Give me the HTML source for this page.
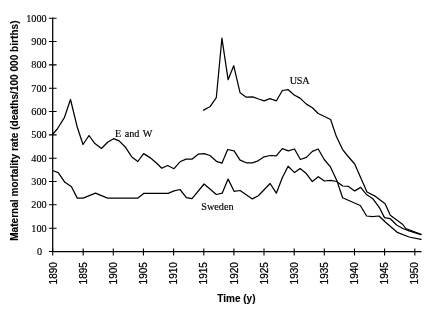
<!DOCTYPE html>
<html><head><meta charset="utf-8"><title>Maternal mortality rate</title>
<style>
html,body{margin:0;padding:0;background:#fff;}
svg{display:block;}
text{fill:#000;stroke:#000;stroke-width:0.25px;}
.s{font-family:"Liberation Serif",serif;font-size:10.2px;stroke-width:0.15px;}
.h{font-family:"Liberation Sans",sans-serif;font-size:10px;stroke-width:0.25px;}
.b{font-family:"Liberation Sans",sans-serif;font-size:10px;font-weight:bold;stroke-width:0.1px;}
</style></head><body>
<svg width="440" height="310" viewBox="0 0 440 310">
<rect width="440" height="310" fill="#fff"/>
<path d="M52.7 17.6 V251.5 H421.5" fill="none" stroke="#000" stroke-width="1.25"/>
<path d="M48.9 251.5H56.6 M48.9 228.2H56.6 M48.9 204.8H56.6 M48.9 181.5H56.6 M48.9 158.2H56.6 M48.9 134.9H56.6 M48.9 111.5H56.6 M48.9 88.2H56.6 M48.9 64.9H56.6 M48.9 41.5H56.6 M48.9 18.2H56.6 M52.7 248.4V255.4 M83.2 248.4V255.4 M113.3 248.4V255.4 M143.4 248.4V255.4 M173.6 248.4V255.4 M203.8 248.4V255.4 M233.9 248.4V255.4 M264.0 248.4V255.4 M294.2 248.4V255.4 M324.3 248.4V255.4 M354.5 248.4V255.4 M384.6 248.4V255.4 M414.8 248.4V255.4 " fill="none" stroke="#000" stroke-width="1.1"/>
<polyline points="52.5,134.5 57.3,129.0 64.5,117.3 70.5,99.5 77.3,127.3 83.0,144.5 89.0,135.5 94.9,143.6 101.5,148.5 107.6,142.2 113.6,138.7 119.1,140.9 125.5,147.3 131.8,156.9 137.8,161.5 143.6,153.6 150.0,157.6 156.4,163.0 161.8,168.2 167.6,165.5 174.0,168.7 180.0,161.8 186.0,159.1 192.2,159.1 198.2,154.2 204.0,153.6 210.0,155.5 216.4,161.3 221.9,163.2 227.7,149.5 234.1,150.8 240.1,160.1 246.3,162.8 252.3,162.8 258.1,160.8 264.1,156.8 270.1,155.5 276.3,155.9 282.3,148.6 288.3,150.8 294.5,149.0 300.4,159.5 306.4,157.4 312.4,151.4 318.2,149.0 324.2,159.5 330.6,167.2 336.8,180.4 342.6,197.8 355.0,203.2 360.3,205.5 366.6,216.0 372.6,216.7 379.0,216.0 385.0,221.8 397.2,232.3 409.1,237.0 421.0,239.3" fill="none" stroke="#000" stroke-width="1.25" stroke-linejoin="round" stroke-linecap="round"/>
<polyline points="203.5,110.1 209.9,106.8 216.3,97.7 221.9,38.2 228.1,79.7 233.7,65.7 240.1,92.8 246.3,97.2 252.6,96.8 258.6,99.0 264.1,100.8 270.0,98.7 276.4,100.8 282.4,90.5 288.2,89.7 294.2,95.0 300.0,98.1 306.4,104.1 312.4,107.7 318.2,113.5 324.5,116.5 330.6,119.5 336.4,136.6 342.5,149.3 347.3,155.5 354.7,164.0 360.5,177.3 367.0,192.0 375.5,196.4 385.1,203.8 390.3,215.3 402.8,224.5 405.7,228.5 421.0,234.4" fill="none" stroke="#000" stroke-width="1.25" stroke-linejoin="round" stroke-linecap="round"/>
<polyline points="52.5,170.5 58.2,172.6 64.9,182.3 71.5,186.8 77.3,198.1 83.1,198.1 95.5,193.2 107.6,198.1 137.6,198.2 144.0,193.3 168.2,193.3 174.0,190.9 180.0,189.5 186.4,197.6 192.0,198.7 204.1,184.0 216.3,194.5 222.3,193.1 228.1,179.1 234.1,191.3 240.1,190.5 252.3,198.9 258.3,195.7 270.1,183.5 276.3,193.2 282.3,177.7 288.1,166.2 294.5,172.6 300.1,168.6 306.3,173.5 312.3,181.5 318.3,176.7 324.4,181.0 330.5,180.3 336.8,181.5 342.6,186.0 348.6,186.4 354.6,190.9 360.7,187.4 366.5,194.6 372.8,198.7 379.2,207.3 384.5,217.6 390.3,218.7 396.6,225.0 402.8,228.5 409.1,230.8 421.0,234.7" fill="none" stroke="#000" stroke-width="1.25" stroke-linejoin="round" stroke-linecap="round"/>
<text class="s" x="42.2" y="254.8" text-anchor="end">0</text>
<text class="s" x="46.6" y="231.5" text-anchor="end">100</text>
<text class="s" x="46.6" y="208.1" text-anchor="end">200</text>
<text class="s" x="46.6" y="184.8" text-anchor="end">300</text>
<text class="s" x="46.6" y="161.5" text-anchor="end">400</text>
<text class="s" x="46.6" y="138.2" text-anchor="end">500</text>
<text class="s" x="46.6" y="114.8" text-anchor="end">600</text>
<text class="s" x="46.6" y="91.5" text-anchor="end">700</text>
<text class="s" x="46.6" y="68.2" text-anchor="end">800</text>
<text class="s" x="46.6" y="44.8" text-anchor="end">900</text>
<text class="s" x="46.6" y="21.5" text-anchor="end">1000</text>
<text class="h" transform="translate(56.6 284.4) rotate(-90)">1890</text>
<text class="h" transform="translate(86.8 284.4) rotate(-90)">1895</text>
<text class="h" transform="translate(116.9 284.4) rotate(-90)">1900</text>
<text class="h" transform="translate(147.0 284.4) rotate(-90)">1905</text>
<text class="h" transform="translate(177.2 284.4) rotate(-90)">1910</text>
<text class="h" transform="translate(207.3 284.4) rotate(-90)">1915</text>
<text class="h" transform="translate(237.5 284.4) rotate(-90)">1920</text>
<text class="h" transform="translate(267.6 284.4) rotate(-90)">1925</text>
<text class="h" transform="translate(297.8 284.4) rotate(-90)">1930</text>
<text class="h" transform="translate(327.9 284.4) rotate(-90)">1935</text>
<text class="h" transform="translate(358.1 284.4) rotate(-90)">1940</text>
<text class="h" transform="translate(388.2 284.4) rotate(-90)">1945</text>
<text class="h" transform="translate(418.4 284.4) rotate(-90)">1950</text>
<text class="s" x="114.9" y="137.3" style="word-spacing:1px">E and W</text>
<text class="s" x="289.8" y="83.7" style="letter-spacing:-0.3px">USA</text>
<text class="s" x="201.3" y="209.6">Sweden</text>
<text class="b" x="217.3" y="301.8">Time (y)</text>
<text class="b" transform="translate(17.6 240.8) rotate(-90)" textLength="220.3" lengthAdjust="spacing">Maternal mortality rate (deaths/100 000 births)</text>
</svg>
</body></html>
